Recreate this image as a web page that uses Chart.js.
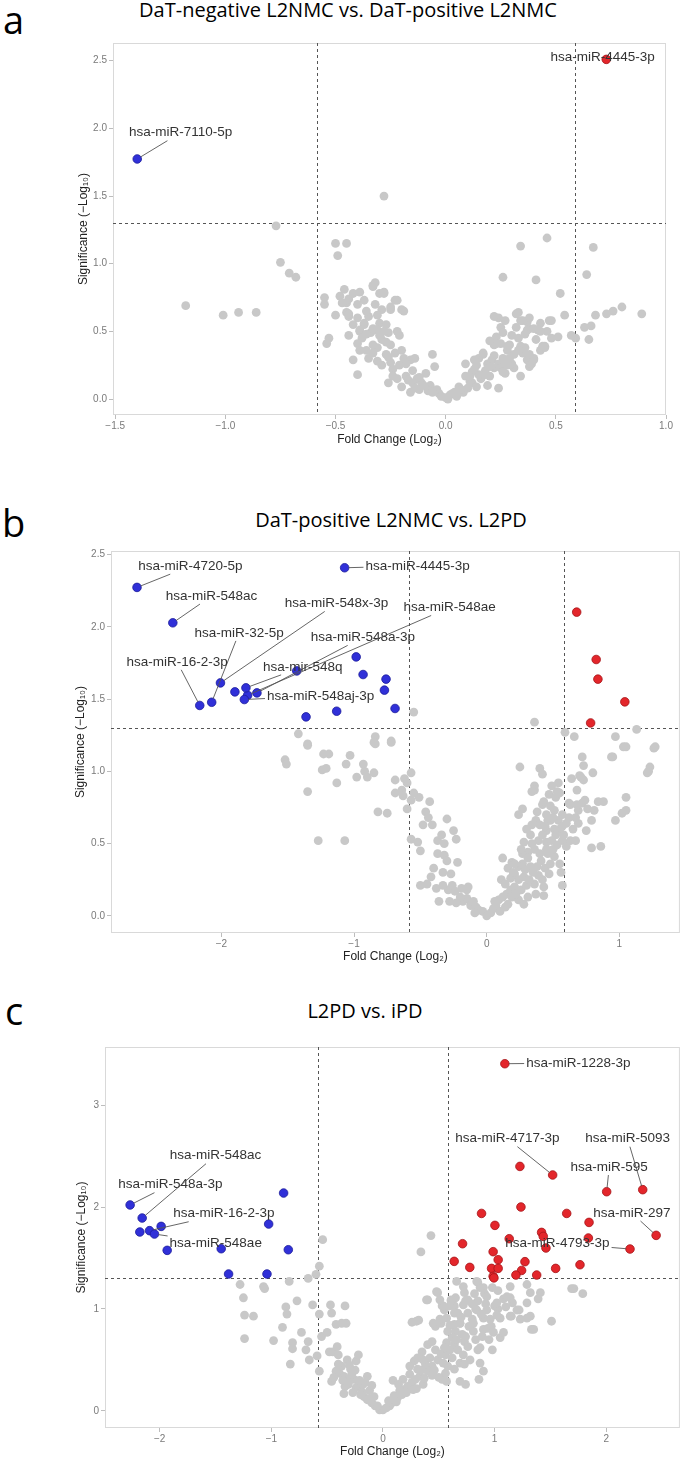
<!DOCTYPE html>
<html>
<head>
<meta charset="utf-8">
<script src="https://cdn.jsdelivr.net/npm/chart.js@4.4.1/dist/chart.umd.min.js"></script>
<style>
  body { margin: 0; width: 685px; height: 1463px; background: #fff; position: relative; overflow: hidden; }
  canvas { position: absolute; left: 0; }
  .letter { position: absolute; font-family: "Open Sans", sans-serif; font-size: 38px; line-height: 38px; color: #000; }
  .title { position: absolute; font-family: "Open Sans", sans-serif; font-size: 20px; line-height: 20px; color: #000; white-space: nowrap; transform: translateX(-50%); }
</style>
</head>
<body>
<div class="letter" style="left:3px;top:0px">a</div>
<div class="title" style="left:348px;top:0px">DaT-negative L2NMC vs. DaT-positive L2NMC</div>
<canvas id="chartA" width="685" height="420" style="top:30px"></canvas>

<div class="letter" style="left:2px;top:503px">b</div>
<div class="title" style="left:391px;top:510px">DaT-positive L2NMC vs. L2PD</div>
<canvas id="chartB" width="685" height="430" style="top:540px"></canvas>

<div class="letter" style="left:5px;top:991px">c</div>
<div class="title" style="left:365px;top:1001px">L2PD vs. iPD</div>
<canvas id="chartC" width="685" height="428" style="top:1035px"></canvas>

<script>
// thresholds: |log2 FC| > log2(1.5), p < 0.05
const FC_CUT = 0.585;
const P_CUT = 1.301;

// ---- panel a : DaT-negative L2NMC vs. DaT-positive L2NMC ----
const aXTicks = [-1.5, -1.0, -0.5, 0.0, 0.5, 1.0];
const aYTicks = [0, 0.5, 1, 1.5, 2, 2.5];
const aDown = [[-1.40, 1.774]];
const aDownNames = ['hsa-miR-7110-5p'];
const aUp = [[0.729, 2.51]];
const aUpNames = ['hsa-miR-4445-3p'];
const aGrey = [
  [-0.77,1.28],[-0.75,1.01],[-0.71,0.93],[-0.68,0.90],[-1.18,0.69],[-1.01,0.62],[-0.94,0.64],[-0.86,0.64],
  [-0.50,1.15],[-0.45,1.15],[-0.49,1.06],[-0.55,0.70],[-0.55,0.75],[-0.54,0.41],[-0.53,0.45],[-0.48,0.76],
  [-0.46,0.81],[-0.45,0.71],[-0.44,0.74],[-0.40,0.70],[-0.45,0.64],[-0.44,0.61],[-0.44,0.47],[-0.40,0.60],
  [-0.37,0.55],[-0.39,0.50],[-0.40,0.41],[-0.39,0.36],[-0.40,0.18],[-0.42,0.29],[-0.35,0.30],[-0.33,0.84],
  [-0.32,0.86],[-0.35,0.61],[-0.47,0.71],[-0.42,0.78],[-0.39,0.79],[-0.44,0.63],[-0.37,0.56],[-0.30,0.78],
  [-0.28,0.78],[-0.22,0.73],[-0.25,0.66],[-0.19,0.65],[-0.29,0.66],[-0.31,0.62],[-0.30,0.56],[-0.27,0.55],
  [-0.31,0.51],[-0.39,0.51],[-0.38,0.45],[-0.36,0.36],[-0.31,0.38],[-0.29,0.44],[-0.26,0.49],[-0.22,0.50],
  [-0.21,0.47],[-0.25,0.40],[-0.26,0.31],[-0.23,0.34],[-0.20,0.36],[-0.19,0.30],[-0.16,0.29],[-0.14,0.30],
  [-0.21,0.25],[-0.22,0.15],[-0.20,0.09],[-0.18,0.17],[-0.15,0.21],[-0.13,0.15],[-0.11,0.12],[-0.12,0.07],
  [-0.09,0.19],[-0.07,0.10],[-0.06,0.33],[-0.05,0.24],[-0.04,0.07],[-0.03,0.04],[0.00,0.01],[0.02,0.03],
  [0.04,0.05],[0.06,0.09],[0.09,0.17],[0.09,0.26],[0.11,0.13],[0.12,0.20],[0.14,0.25],[0.15,0.30],
  [0.17,0.33],[0.16,0.15],[0.18,0.21],[0.19,0.26],[0.21,0.29],[0.22,0.23],[0.20,0.17],[0.24,0.08],
  [0.24,0.26],[0.25,0.23],[0.27,0.19],[0.28,0.25],[0.31,0.23],[0.30,0.26],[0.34,0.17],[0.33,0.45],
  [0.34,0.39],[0.35,0.34],[0.37,0.29],[0.38,0.24],[0.39,0.26],[0.40,0.30],[0.38,0.52],[0.37,0.57],
  [0.38,0.60],[0.32,0.53],[0.33,0.64],[0.35,0.58],[0.43,0.56],[0.42,0.51],[0.43,0.50],[0.45,0.39],
  [0.43,0.36],[0.45,0.38],[0.41,0.44],[0.47,0.58],[0.51,0.46],[0.54,0.62],[0.52,0.78],[0.41,0.88],
  [0.26,0.90],[0.24,0.60],[0.25,0.53],[0.23,0.46],[0.25,0.41],[0.22,0.40],[0.28,0.39],[0.26,0.49],
  [0.28,0.36],[0.15,0.18],[0.12,0.12],[0.10,0.08],[0.08,0.05],[0.05,0.02],[-0.28,1.50],[0.46,1.19],
  [0.34,1.13],[0.67,1.12],[0.64,0.92],[0.48,0.58],[0.57,0.47],[0.59,0.45],[0.63,0.53],[0.66,0.54],
  [0.65,0.44],[0.68,0.62],[0.73,0.63],[0.76,0.65],[0.80,0.68],[0.89,0.63],[0.44,0.39],[0.40,0.29],
  [0.38,0.33],[0.36,0.38],[0.26,0.30],[0.27,0.26],[0.32,0.63],[0.34,0.58],[0.37,0.51],[0.22,0.61],
  [0.23,0.41],[0.13,0.29],[0.17,0.34],[-0.33,0.83],[-0.28,0.79],[-0.23,0.73],[-0.20,0.66],[-0.25,0.68],
  [-0.10,0.10],[-0.08,0.06],[-0.06,0.05],[-0.02,0.02],[0.01,0.00],[0.03,0.04],[0.07,0.07],[-0.15,0.12],
  [-0.17,0.14],[-0.12,0.16],[-0.24,0.22],[-0.18,0.26],[-0.27,0.33],[-0.33,0.40],[-0.34,0.49],[0.11,0.17],
  [0.13,0.22],[0.18,0.18],[0.20,0.24],[0.22,0.32],[0.26,0.20],[0.29,0.30],[0.31,0.33],[0.29,0.40],
  [0.19,0.10],[0.14,0.09],[-0.36,0.48],[-0.33,0.52],[-0.30,0.47],[-0.28,0.50],[-0.27,0.42],[-0.33,0.34],
  [-0.31,0.28],[-0.29,0.25],[-0.25,0.27],[-0.24,0.17],[-0.26,0.12],[-0.14,0.08],[-0.16,0.05],
  [-0.42,0.55],[-0.36,0.65],[-0.32,0.70],[-0.37,0.73],[-0.50,0.62],[0.30,0.47],[0.33,0.36],[0.36,0.48],
  [0.40,0.52],[0.46,0.50],[0.48,0.45],[0.20,0.43],[0.27,0.58]
];

// ---- panel b : DaT-positive L2NMC vs. L2PD ----
const bXTicks = [-2, -1, 0, 1];
const bYTicks = [0, 0.5, 1, 1.5, 2, 2.5];
const bDown = [
  [-2.636,2.273],[-2.366,2.028],[-2.073,1.478],[-2.163,1.456],[-2.007,1.612],[-1.732,1.543],[-1.802,1.527],
  [-1.815,1.578],[-1.827,1.497],[-1.071,2.409],
  [-1.898,1.55],[-1.432,1.695],[-1.362,1.377],[-1.131,1.416],[-0.984,1.792],[-0.932,1.67],[-0.759,1.638],
  [-0.771,1.562],[-0.691,1.435]
];
const bDownNames = ['hsa-miR-4720-5p','hsa-miR-548ac','hsa-miR-32-5p','hsa-miR-16-2-3p','hsa-miR-548x-3p',
  'hsa-miR-548a-3p','hsa-miR-548ae','hsa-mir-548q','hsa-miR-548aj-3p','hsa-miR-4445-3p'];
const bUp = [[0.678,2.102],[0.825,1.774],[0.838,1.638],[1.041,1.481],[0.783,1.335]];
const bUpNames = [];
const bGrey = [
  [0.36,1.34],[0.59,1.27],[0.66,1.24],[0.97,1.24],[1.13,1.29],[1.03,1.17],[1.26,1.16],[0.72,1.10],[0.94,1.10],
  [-1.42,1.26],[-1.35,1.19],[-0.84,1.24],[-0.85,1.20],[-0.72,1.21],[-0.55,1.41],
  [-1.52,1.08],[-1.51,1.05],[-1.35,1.18],[-1.35,0.86],[-1.27,0.52],[-1.23,1.12],[-1.19,1.12],[-1.24,1.01],
  [-1.21,1.02],[-1.13,0.92],[-1.06,1.05],[-1.03,1.11],[-1.07,0.52],[-0.98,0.96],[-0.93,1.05],[-0.90,0.96],
  [-0.92,1.00],[-0.85,0.99],[-0.84,1.19],[-0.72,1.20],[-0.82,0.72],[-0.75,0.71],[-0.69,0.94],[-0.69,0.85],
  [-0.64,0.87],[-0.63,0.83],[-0.60,0.74],[-0.60,0.92],[-0.57,0.99],[-0.57,0.80],[-0.51,0.82],[-0.43,0.79],
  [-0.57,0.53],[-0.52,0.51],[-0.50,0.45],[-0.46,0.72],[-0.44,0.68],[-0.41,0.63],[-0.37,0.52],[-0.32,0.50],
  [-0.30,0.67],[-0.25,0.59],[-0.23,0.53],[-0.37,0.43],[-0.32,0.42],[-0.30,0.38],[-0.22,0.37],[-0.42,0.27],
  [-0.33,0.30],[-0.27,0.29],[-0.50,0.21],[-0.45,0.22],[-0.38,0.19],[-0.29,0.18],[-0.24,0.17],[-0.19,0.19],
  [-0.14,0.20],[-0.36,0.10],[-0.28,0.10],[-0.23,0.09],[-0.18,0.10],[-0.15,0.12],[-0.12,0.08],[-0.15,0.18],
  [-0.12,0.07],[-0.08,0.06],[-0.06,0.04],[-0.03,0.03],[0.00,0.00],[0.03,0.02],[0.05,0.05],[0.07,0.07],
  [0.09,0.11],[0.12,0.13],[0.11,0.25],[0.12,0.40],[0.15,0.15],[0.18,0.18],[0.21,0.20],[0.16,0.08],
  [0.24,0.11],[0.28,0.08],[0.21,0.29],[0.24,0.25],[0.27,0.36],[0.28,0.27],[0.33,0.34],[0.36,0.22],
  [0.31,0.13],[0.37,0.15],[0.43,0.14],[0.43,0.20],[0.39,0.28],[0.40,0.43],[0.45,0.51],[0.49,0.52],
  [0.46,0.43],[0.51,0.41],[0.55,0.36],[0.56,0.30],[0.39,0.52],[0.34,0.50],[0.28,0.51],[0.31,0.44],
  [0.27,0.43],[0.24,0.34],[0.19,0.37],[0.16,0.33],[0.57,0.21],[0.25,1.03],[0.27,0.74],[0.24,0.70],
  [0.36,0.90],[0.36,0.87],[0.34,0.86],[0.40,1.02],[0.42,0.98],[0.42,0.77],[0.43,0.79],[0.47,0.84],
  [0.49,0.90],[0.54,0.92],[0.53,0.86],[0.52,0.82],[0.55,0.85],[0.51,0.73],[0.46,0.66],[0.48,0.66],
  [0.54,0.66],[0.57,0.70],[0.57,0.62],[0.55,0.60],[0.51,0.60],[0.45,0.59],[0.42,0.56],[0.37,0.66],
  [0.34,0.63],[0.52,0.56],[0.57,0.52],[0.60,0.48],[0.60,0.64],[0.62,0.78],[0.63,0.77],[0.64,0.95],
  [0.68,0.87],[0.65,0.60],[0.63,0.52],[0.67,0.52],[0.69,0.64],[0.67,0.68],[0.69,0.73],[0.68,0.77],
  [0.72,0.78],[0.73,0.94],[0.71,0.96],[0.73,1.04],[0.70,0.97],[0.75,0.59],[0.79,0.66],[0.79,0.47],
  [0.80,0.99],[0.74,0.80],[0.76,0.74],[0.81,0.73],[0.84,0.79],[0.88,0.79],[0.86,0.48],[0.95,1.10],
  [0.97,0.66],[1.02,0.71],[1.05,0.73],[1.05,0.82],[1.05,1.17],[1.21,0.99],[1.23,1.03],[1.22,1.00],
  [1.27,1.17],[0.14,0.06],[0.19,0.13],[0.22,0.15],[0.26,0.18],[0.30,0.21],[0.32,0.25],[0.35,0.30],
  [0.38,0.34],[0.41,0.38],[0.44,0.33],[0.47,0.29],[0.50,0.46],[0.29,0.32],[0.31,0.40],[0.36,0.46],
  [0.33,0.56],[0.40,0.63],[0.45,0.70],[0.48,0.76],[-0.10,0.10],[-0.20,0.13],[-0.26,0.21],[-0.09,0.02],
  [0.06,0.10],[0.10,0.03],[0.18,0.26],[0.21,0.36],
  [0.30,0.60],[0.38,0.72],[0.44,0.62],[0.50,0.68],[0.58,0.56],[0.62,0.68],[0.45,0.46],[0.42,0.25],
  [0.48,0.36],[0.53,0.49],[0.26,0.46],[0.20,0.30],[0.14,0.22],[-0.33,0.21],[-0.40,0.33],[-0.34,0.56],
  [-0.48,0.63],[-0.55,0.85],[-0.62,0.95]
];

// ---- panel c : L2PD vs. iPD ----
const cXTicks = [-2, -1, 0, 1, 2];
const cYTicks = [0, 1, 2, 3];
const cDown = [
  [-2.265,2.02],[-2.157,1.892],[-2.091,1.768],[-2.047,1.735],
  [-2.178,1.755],[-1.987,1.81],[-1.933,1.575],[-1.449,1.591],[-1.024,1.833],[-0.89,2.137],[-0.848,1.581],
  [-1.383,1.343],[-1.039,1.343]
];
const cDownNames = ['hsa-miR-548a-3p','hsa-miR-548ac','hsa-miR-16-2-3p','hsa-miR-548ae'];
const cUp = [
  [1.092,3.405],[1.52,2.314],[2.004,2.15],[2.327,2.17],[2.447,1.722],[2.213,1.588],
  [1.227,2.398],[1.236,2.0],[0.883,1.937],[1.646,1.937],[1.846,1.849],[1.003,1.82],[1.421,1.751],
  [1.436,1.712],[1.84,1.696],[1.131,1.689],[1.46,1.598],[0.713,1.64],[0.987,1.562],[1.032,1.483],
  [1.272,1.464],[0.638,1.467],[0.778,1.408],[0.973,1.398],[1.032,1.398],[1.242,1.378],[1.547,1.398],
  [1.765,1.434],[1.191,1.333],[1.377,1.333],[0.987,1.32],[0.994,1.305]
];
const cUpNames = ['hsa-miR-1228-3p','hsa-miR-4717-3p','hsa-miR-595','hsa-miR-5093','hsa-miR-297','hsa-miR-4793-3p'];
const cGrey = [
  [-1.28,1.24],[-1.25,1.11],[-1.24,0.94],[-1.24,0.71],[-1.16,0.93],[-1.07,1.22],[-1.06,1.20],[-0.98,0.69],
  [-0.87,1.02],[-0.86,0.95],[-0.90,0.82],[-0.84,1.27],[-0.83,0.46],[-0.81,0.67],[-0.81,0.61],[-0.77,1.08],
  [-0.73,0.77],[-0.69,0.60],[-0.67,0.68],[-0.66,0.50],[-0.67,1.30],[-0.63,1.04],[-0.60,1.34],[-0.54,1.68],
  [-0.57,1.42],[-0.59,0.54],[-0.57,0.39],[-0.57,0.95],[-0.55,0.73],[-0.50,0.77],[-0.47,1.04],[-0.46,0.96],
  [-0.42,0.85],[-0.34,1.03],[-0.48,0.58],[-0.45,0.58],[-0.41,0.63],[-0.40,0.55],[-0.42,0.39],[-0.46,0.29],
  [-0.39,0.37],[-0.37,0.44],[-0.35,0.34],[-0.33,0.86],[-0.37,0.86],[-0.32,0.50],[-0.29,0.41],[-0.24,0.49],
  [-0.34,0.24],[-0.35,0.17],[-0.31,0.26],[-0.26,0.31],[-0.24,0.23],[-0.22,0.24],[-0.19,0.19],[-0.14,0.34],
  [-0.17,0.14],[-0.14,0.11],[-0.10,0.08],[-0.07,0.05],[-0.03,0.01],[0.00,0.01],[0.03,0.03],[0.06,0.05],
  [0.08,0.08],[0.12,0.09],[0.13,0.13],[0.17,0.16],[0.19,0.21],[0.18,0.31],[0.22,0.24],[0.26,0.28],
  [0.28,0.49],[0.31,0.41],[0.29,0.31],[0.33,0.34],[0.36,0.26],[0.37,0.32],[0.40,0.39],[0.44,0.44],
  [0.44,0.35],[0.35,0.58],[0.40,0.65],[0.44,0.68],[0.47,0.60],[0.49,0.50],[0.54,0.47],[0.56,0.37],
  [0.53,0.31],[0.57,0.29],[0.26,0.87],[0.32,0.89],[0.40,1.09],[0.49,1.16],[0.47,0.83],[0.52,0.86],
  [0.53,1.03],[0.55,0.99],[0.57,0.67],[0.56,0.55],[0.61,1.08],[0.64,1.03],[0.65,1.11],[0.67,0.96],
  [0.64,0.85],[0.65,0.78],[0.69,0.86],[0.71,0.75],[0.64,0.65],[0.67,0.60],[0.69,0.47],[0.64,0.41],
  [0.69,0.29],[0.74,0.26],[0.73,0.46],[0.73,0.68],[0.74,0.73],[0.77,0.83],[0.80,0.90],[0.81,0.78],
  [0.83,0.70],[0.85,0.60],[0.87,0.47],[0.86,0.31],[0.90,0.39],[0.87,0.62],[0.89,0.73],[0.90,0.80],
  [0.94,0.81],[0.96,0.90],[0.97,0.83],[0.99,0.77],[1.00,1.03],[0.98,1.21],[0.91,1.15],[0.85,1.08],
  [0.83,1.00],[0.85,1.26],[0.90,1.21],[0.73,1.16],[0.74,1.08],[0.76,0.96],[1.03,1.00],[1.05,0.72],
  [1.08,0.77],[1.05,0.91],[1.08,1.10],[1.14,1.22],[1.16,1.06],[1.15,0.93],[1.22,0.99],[1.23,0.90],
  [1.29,1.24],[1.32,1.16],[1.29,1.06],[1.32,0.93],[1.35,0.80],[1.51,0.88],[1.71,1.20],[1.79,1.15],
  [1.41,1.16],[0.43,1.72],[0.34,1.56],[1.69,1.20],[1.39,1.10],[1.14,1.11],[1.03,1.18],[0.87,1.21],
  [0.84,1.27],[0.72,1.22],[0.66,1.27],[0.61,1.09],[0.60,1.03],[0.54,1.03],[0.51,1.09],[0.39,1.09],
  [0.48,1.17],[0.30,0.88],[0.45,0.86],[0.51,0.90],[0.64,0.96],[0.72,1.04],[0.76,1.09],[0.84,0.99],
  [0.93,1.12],[1.02,1.06],[1.11,1.12],[1.20,0.99],[1.29,0.91],[1.14,0.93],[1.02,0.94],[0.93,0.99],
  [0.90,0.91],[0.81,0.86],[0.69,0.86],[1.33,0.80],[0.05,0.10],[0.10,0.15],[0.15,0.20],[0.21,0.18],
  [0.24,0.36],[0.27,0.21],[0.30,0.22],[0.34,0.40],[0.38,0.46],[0.42,0.52],[0.46,0.40],[0.50,0.33],
  [0.52,0.56],[0.58,0.44],[0.60,0.60],[0.62,0.72],[0.60,0.84],[0.57,0.91],[-0.05,0.05],[-0.12,0.12],
  [-0.20,0.16],[-0.27,0.18],[-0.30,0.30],[-0.28,0.36],[-0.21,0.30],[-0.18,0.26],[-0.12,0.20],[-0.08,0.14],
  [0.62,0.52],[0.66,0.70],[0.70,0.92],[0.72,0.55],[0.76,0.63],[0.78,0.50],[0.80,1.05],[0.82,1.15],
  [0.88,0.95],[0.92,1.05],[0.95,0.70],[0.98,0.60],[1.10,1.02],[0.58,0.78],[0.55,0.62],[-0.25,0.40],
  [-0.30,0.45],[-0.22,0.55],[-0.36,0.30],[-0.40,0.46],[-0.44,0.33],[-0.16,0.28],[-0.10,0.25],[0.09,0.30],
  [0.14,0.26],[0.24,0.44],[0.31,0.52],[0.36,0.50]
];

// where each miRNA label sits (text centre, data units), same order as the names
const labelAt = {
  aDown: [[-1.203, 1.968]],
  aUp: [[0.712, 2.525]],
  bDown: [[-2.234,2.42],[-2.074,2.213],[-1.867,1.958],[-2.334,1.758],[-1.133,2.162],[-0.933,1.927],
          [-0.28,2.134],[-1.386,1.723],[-1.252,1.522],[-0.521,2.422]],
  bUp: [],
  cDown: [[-1.905,2.219],[-1.501,2.503],[-1.426,1.934],[-1.498,1.647]],
  cUp: [[1.75,3.412],[1.115,2.67],[2.027,2.392],[2.191,2.67],[2.229,1.941],[1.563,1.647]]
};

const GREY = '#c8c8c8';
const BLUE = '#3030d8';
const RED = '#e3262b';
const LABEL_FONT = '13.5px "Liberation Sans", Arial, sans-serif';

function toXY(arr) {
  return arr.map(p => ({x: p[0], y: p[1]}));
}

function fmt(v, dec) {
  return v.toFixed(dec).replace('-', '\u2212');
}

const frame = {
  id: 'frame',
  beforeDatasetsDraw(chart) {
    const {ctx, chartArea: a} = chart;
    ctx.save();
    ctx.strokeStyle = '#d9d9d9';
    ctx.lineWidth = 1;
    ctx.strokeRect(a.left + 0.5, a.top + 0.5, a.width - 1, a.height - 1);
    ctx.restore();
  }
};

const thresholds = {
  id: 'thresholds',
  beforeDatasetsDraw(chart) {
    const {ctx, chartArea: a, scales: {x, y}} = chart;
    ctx.save();
    ctx.strokeStyle = '#555';
    ctx.lineWidth = 1;
    ctx.setLineDash([3, 3]);
    [-FC_CUT, FC_CUT].forEach(v => {
      const px = Math.round(x.getPixelForValue(v)) + 0.5;
      ctx.beginPath(); ctx.moveTo(px, a.top); ctx.lineTo(px, a.bottom); ctx.stroke();
    });
    const py = Math.round(y.getPixelForValue(P_CUT)) + 0.5;
    ctx.beginPath(); ctx.moveTo(a.left, py); ctx.lineTo(a.right, py); ctx.stroke();
    ctx.restore();
  }
};

// ggrepel-like labels: segment from the point towards the label centre, stopping at the label box
const mirLabels = {
  id: 'mirLabels',
  afterDatasetsDraw(chart, args, opts) {
    const {ctx, scales: {x, y}} = chart;
    ctx.save();
    ctx.font = LABEL_FONT;
    ctx.textAlign = 'center';
    ctx.textBaseline = 'middle';
    opts.items.forEach(it => {
      const px = x.getPixelForValue(it.pt[0]), py = y.getPixelForValue(it.pt[1]);
      const tx = x.getPixelForValue(it.at[0]), ty = y.getPixelForValue(it.at[1]);
      const hw = ctx.measureText(it.name).width / 2 + 2, hh = 8;
      const dx = px - tx, dy = py - ty;
      if (Math.abs(dx) > hw || Math.abs(dy) > hh) {
        const s = Math.min(dx ? hw / Math.abs(dx) : Infinity, dy ? hh / Math.abs(dy) : Infinity);
        const ex = tx + dx * s, ey = ty + dy * s;
        const len = Math.hypot(px - ex, py - ey);
        if (len > 5) {
          const sx = px + (ex - px) * 4 / len, sy = py + (ey - py) * 4 / len;
          ctx.strokeStyle = '#555';
          ctx.lineWidth = 0.9;
          ctx.beginPath(); ctx.moveTo(sx, sy); ctx.lineTo(ex, ey); ctx.stroke();
        }
      }
      ctx.fillStyle = '#333';
      ctx.fillText(it.name, tx, ty);
    });
    ctx.restore();
  }
};

function labelItems(names, pts, at) {
  return names.map((n, i) => ({name: n, pt: pts[i], at: at[i]}));
}

function volcano(id, p) {
  return new Chart(document.getElementById(id), {
    type: 'scatter',
    data: {
      datasets: [
        {data: toXY(p.grey), backgroundColor: GREY, borderColor: GREY, pointRadius: 4.4, borderWidth: 0},
        {data: toXY(p.down), backgroundColor: BLUE, borderColor: '#1c1c9a', pointRadius: 4.3, borderWidth: 0.8},
        {data: toXY(p.up), backgroundColor: RED, borderColor: '#a51418', pointRadius: 4.3, borderWidth: 0.8}
      ]
    },
    options: {
      responsive: false,
      animation: false,
      events: [],
      layout: {padding: {top: p.padTop, right: p.padRight, left: 0, bottom: 0}},
      plugins: {
        legend: {display: false},
        tooltip: {enabled: false},
        mirLabels: {items: p.labels}
      },
      scales: {
        x: {
          type: 'linear',
          min: p.xRange[0],
          max: p.xRange[1],
          afterBuildTicks: s => { s.ticks = p.xTicks.map(v => ({value: v})); },
          afterFit: s => { s.height = p.xAxisH; },
          grid: {drawOnChartArea: false, drawTicks: true, tickLength: 4, color: '#bdbdbd'},
          border: {display: false},
          ticks: {
            autoSkip: false, maxRotation: 0, padding: 1, color: '#7a7a7a',
            font: {family: '"Liberation Sans", Arial', size: 10},
            callback: v => fmt(v, p.xDec)
          },
          title: {
            display: true, text: 'Fold Change (Log\u2082)', color: '#222',
            font: {family: '"Liberation Sans", Arial', size: 12},
            padding: {top: 0, bottom: p.xTitlePad}
          }
        },
        y: {
          type: 'linear',
          min: p.yRange[0],
          max: p.yRange[1],
          afterBuildTicks: s => { s.ticks = p.yTicks.map(v => ({value: v})); },
          afterFit: s => { s.width = p.yAxisW; },
          grid: {drawOnChartArea: false, drawTicks: true, tickLength: 4, color: '#bdbdbd'},
          border: {display: false},
          ticks: {
            autoSkip: false, padding: 2, color: '#7a7a7a',
            font: {family: '"Liberation Sans", Arial', size: 10},
            callback: v => fmt(v, p.yDec)
          },
          title: {
            display: true, text: 'Significance (\u2212Log\u2081\u2080)', color: '#222',
            font: {family: '"Liberation Sans", Arial', size: 12},
            padding: {top: p.yTitlePad, bottom: 0}
          }
        }
      }
    },
    plugins: [frame, thresholds, mirLabels]
  });
}

volcano('chartA', {
  grey: aGrey, down: aDown, up: aUp,
  labels: labelItems(aDownNames, aDown, labelAt.aDown).concat(labelItems(aUpNames, aUp, labelAt.aUp)),
  xTicks: aXTicks, yTicks: aYTicks, xDec: 1, yDec: 1,
  xRange: [-1.51, 1.0], yRange: [-0.118, 2.631],
  padTop: 13, padRight: 19, yAxisW: 113, xAxisH: 35, yTitlePad: 76, xTitlePad: 3
});

volcano('chartB', {
  grey: bGrey, down: bDown, up: bUp,
  labels: labelItems(bDownNames, bDown, labelAt.bDown).concat(labelItems(bUpNames, bUp, labelAt.bUp)),
  xTicks: bXTicks, yTicks: bYTicks, xDec: 0, yDec: 1,
  xRange: [-2.832, 1.456], yRange: [-0.119, 2.525],
  padTop: 11, padRight: 3, yAxisW: 111, xAxisH: 37, yTitlePad: 73, xTitlePad: 6
});

volcano('chartC', {
  grey: cGrey, down: cDown, up: cUp,
  labels: labelItems(cDownNames, cDown, labelAt.cDown).concat(labelItems(cUpNames, cUp, labelAt.cUp)),
  xTicks: cXTicks, yTicks: cYTicks, xDec: 0, yDec: 0,
  xRange: [-2.49, 2.66], yRange: [-0.167, 3.569],
  padTop: 12, padRight: 3, yAxisW: 105, xAxisH: 35, yTitlePad: 74, xTitlePad: 4
});
</script>
</body>
</html>
